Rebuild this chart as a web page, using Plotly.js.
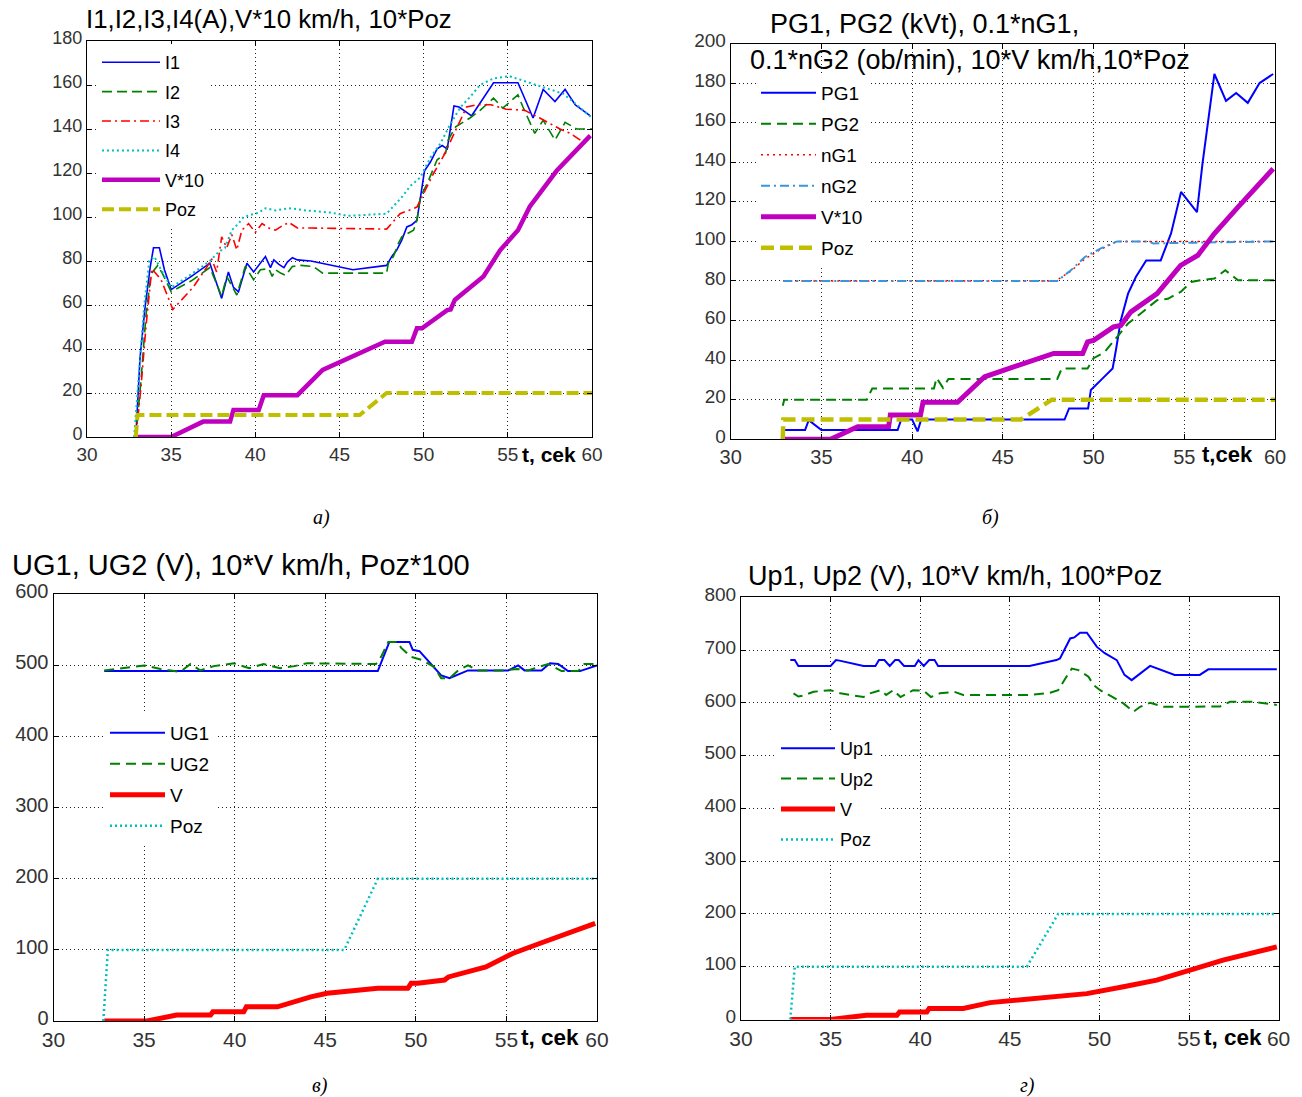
<!DOCTYPE html>
<html>
<head>
<meta charset="utf-8">
<script src="https://cdn.plot.ly/plotly-3.0.1.min.js"></script>
<style>html,body{margin:0;padding:0;background:#fff;}#chart{width:1302px;height:1097px;}</style>
</head>
<body>
<div id="chart"></div>
<script>
// ---------------- DATA ----------------
// Panel a
const a_I1_t = [32.9, 33.15, 33.45, 33.75, 33.95, 34.3, 34.6, 35.0, 36.2, 37.3, 38.0, 38.4, 38.7, 39.0, 39.5, 39.9, 40.6, 40.9, 41.1, 41.4, 41.7, 41.9, 42.2, 42.5, 43.3, 45.8, 47.8, 48.1, 48.4, 48.7, 49.0, 49.3, 49.6, 49.8, 50.05, 50.4, 50.8, 51.1, 51.4, 51.8, 52.1, 52.85, 54.15, 55.6, 56.5, 57.1, 57.8, 58.4, 59.0, 59.9];
const a_I1_v = [0, 36, 59, 77, 86, 86, 76, 67, 73, 79, 63, 75, 68, 66, 79, 75, 82, 77, 80.5, 78.5, 77, 79.5, 81.5, 80.5, 80, 76, 78, 82, 85, 89.5, 95.5, 96.5, 98.5, 109, 121, 125, 131, 132.5, 131, 150.5, 150, 146, 161, 161, 145, 158, 152.5, 158, 151, 146];
const a_I2_t = [32.9, 33.2, 33.5, 33.8, 34.2, 34.5, 35.0, 36.2, 37.3, 38.0, 38.3, 38.9, 39.4, 39.9, 40.3, 40.8, 41.0, 41.2, 41.5, 41.8, 42.2, 42.7, 43.45, 44.0, 47.8, 47.9, 48.2, 48.5, 48.7, 49.1, 49.4, 49.6, 49.8, 50.2, 50.8, 51.3, 51.45, 51.9, 52.75, 53.35, 54.15, 54.7, 55.6, 55.9, 56.6, 57.1, 57.8, 58.4, 59.1, 60];
const a_I2_v = [0, 25, 55, 74, 78, 74, 66, 71, 77, 64, 73, 64.5, 77.5, 71.5, 76, 76.5, 73, 76, 74.5, 73.5, 77.5, 78, 77.5, 74.5, 74.5, 79, 82, 88, 91, 92.5, 94, 98.5, 109, 115, 126, 129, 135, 141, 145, 148.5, 154, 149.5, 155.5, 150, 138, 144, 135, 143, 140, 140];
const a_I3_t = [32.9, 33.2, 33.5, 33.85, 34.4, 35.1, 36.3, 37.1, 37.4, 37.7, 38.0, 38.3, 38.6, 38.9, 39.2, 39.6, 40.0, 40.4, 40.8, 41.2, 41.6, 42.0, 42.5, 43.3, 47.8, 48.6, 49.6, 50.0, 50.6, 51.2, 51.8, 52.55, 53.15, 54.0, 54.9, 56.0, 56.9, 58.1, 58.7, 59.8];
const a_I3_v = [0, 22, 50, 76.5, 71.5, 58, 68, 77, 81, 75, 91, 86, 92, 85, 94, 97, 93, 97, 95, 94, 96, 97.5, 95, 95, 94.5, 101.5, 104.5, 111, 120, 128, 138, 150, 151, 151, 149, 148.5, 145, 140, 138, 132.5];
const a_I4_t = [32.8, 33.1, 33.4, 33.7, 34.0, 34.4, 35.0, 36.2, 37.3, 37.8, 38.2, 38.6, 39.0, 39.3, 39.7, 40.2, 40.6, 41.2, 42.0, 43.0, 44.5, 45.5, 47.8, 48.7, 49.2, 49.8, 50.4, 51.0, 51.6, 52.2, 52.75, 53.35, 54.15, 55.1, 56.1, 57.1, 58.3, 59.1, 60];
const a_I4_v = [0, 30, 60, 80, 82, 76, 68, 74, 80, 84, 86, 94, 97, 100, 101, 102, 104, 103, 104, 103, 102, 100.5, 101.5, 109, 114, 118, 127, 133.5, 142.5, 150, 154.5, 160, 163, 164, 161.5, 159, 156, 151, 145];
const a_V_t = [33, 35.0, 36.9, 38.5, 38.7, 40.2, 40.5, 42.5, 44.0, 45.0, 47.7, 49.3, 49.6, 49.9, 51.4, 51.6, 51.85, 53.55, 54.55, 55.6, 56.3, 57.9, 59.9];
const a_V_v = [0, 0, 7, 7, 12.3, 12.3, 19, 19, 30.5, 34, 43.3, 43.3, 49.4, 49.4, 57.7, 58, 62.3, 73, 85, 94, 104.7, 121, 137];
const a_Poz_t = [32.9, 33.0, 46.2, 47.0, 47.8, 60];
const a_Poz_v = [0, 10, 10, 15, 20, 20];

// Panel b
const b_PG1_t = [32.87, 32.9, 34.1, 34.3, 35.0, 39.2, 39.4, 40.0, 40.3, 40.5, 48.4, 48.65, 49.7, 49.85, 50.5, 51.05, 51.23, 51.5, 51.9, 52.33, 52.9, 53.7, 54.27, 54.82, 55.7, 56.0, 56.66, 57.3, 57.86, 58.5, 59.15, 59.9];
const b_PG1_v = [0, 4.7, 4.7, 9.7, 4.7, 4.7, 10, 10, 4, 10, 10, 15.6, 15.6, 24.9, 30.8, 35.8, 45, 60, 73.6, 82, 90.4, 90.4, 104, 125, 114.8, 139, 184.6, 171, 175, 170, 180, 184.6];
const b_PG2_t = [32.87, 32.95, 37.5, 37.8, 41.2, 41.35, 41.7, 42.0, 48.0, 48.25, 49.67, 50.0, 50.6, 51.3, 51.9, 52.6, 53.5, 54.1, 54.8, 55.37, 55.9, 56.66, 57.26, 57.96, 60];
const b_PG2_v = [17, 20, 20, 25.7, 25.7, 31, 26, 30.5, 30.5, 35.8, 35.8, 41, 44, 52, 58.5, 63.6, 70.3, 71, 74.5, 79.5, 80.4, 81.2, 85.4, 80.4, 80.4];
const b_nG1_t = [32.9, 47.9, 48.75, 49.5, 50.4, 51.3, 60];
const b_nG1_v = [80, 80, 85, 91, 96, 100, 100];
const b_nG2_t = [32.9, 48.0, 48.75, 49.5, 50.4, 51.3, 53.0, 53.3, 60];
const b_nG2_v = [80, 80, 85.4, 92, 96.5, 100, 100, 99, 100];
const b_V_t = [32.9, 35.5, 37.0, 38.7, 38.8, 40.46, 40.6, 42.5, 44.0, 47.8, 49.4, 49.67, 50.0, 51.1, 51.5, 52.06, 53.5, 54.8, 55.75, 56.66, 57.96, 59.9];
const b_V_v = [0, 0, 6.3, 6.3, 12.3, 12.3, 18.7, 18.7, 31.6, 43.4, 43.4, 49.2, 50, 56.8, 57.5, 64.4, 73.6, 87.9, 93, 104, 117.3, 136.7];
const b_Poz_t = [32.87, 32.9, 46.0, 46.9, 47.7, 60];
const b_Poz_v = [0, 10, 10, 15.6, 20, 20];

// Panel c
const c_UG1_t = [32.8, 47.9, 48.54, 49.65, 49.83, 50.2, 51.4, 51.86, 52.88, 55.1, 55.65, 56.0, 56.94, 57.4, 57.86, 58.4, 59.06, 60];
const c_UG1_v = [492, 492, 533, 533, 522, 520, 486, 482, 493, 493, 500, 493, 493, 503, 502, 492, 492, 500];
const c_UG2_t = [32.8, 35.0, 35.9, 37.0, 37.56, 38.1, 38.85, 39.96, 40.8, 41.6, 42.5, 43.3, 44.0, 47.8, 48.08, 48.48, 49.0, 49.18, 49.74, 50.3, 51.0, 51.4, 51.86, 52.33, 52.88, 53.43, 54.9, 55.6, 56.2, 57.3, 58.04, 58.96, 59.3, 60];
const c_UG2_v = [493, 500, 495, 491, 502, 493, 499, 503, 496, 502, 496, 499, 503, 502, 512, 533, 533, 525, 512, 508, 498, 482, 482, 493, 500, 493, 493, 495, 493, 502, 492, 492, 502, 502];
const c_V_t = [32.8, 35.16, 36.8, 38.67, 38.8, 40.5, 40.65, 42.36, 44.2, 45.1, 47.9, 49.56, 49.74, 50.1, 51.58, 51.8, 53.87, 55.34, 56.83, 59.9];
const c_V_v = [0, 0, 8.4, 8.4, 13, 13, 20, 20, 34, 39, 46, 46, 53, 53, 57.6, 62, 76, 95, 109, 137.4];
const c_Poz_t = [32.75, 33.0, 46.05, 47.9, 60];
const c_Poz_v = [0, 100, 100, 200, 200];

// Panel d
const d_Up1_t = [32.75, 33.0, 33.2, 35.0, 35.3, 35.5, 36.84, 37.5, 37.7, 38.0, 38.3, 38.6, 38.8, 39.1, 39.7, 39.9, 40.2, 40.5, 40.8, 41.0, 46.1, 47.6, 47.8, 48.37, 48.6, 48.92, 49.3, 49.86, 50.3, 50.97, 51.4, 51.8, 52.83, 54.2, 55.6, 56.08, 59.9];
const d_Up1_v = [681, 681, 670, 670, 681, 680, 670, 670, 681, 681, 670, 681, 681, 670, 670, 681, 670, 681, 681, 670, 670, 681, 684, 722, 724, 733, 733, 706, 694, 681, 653, 643, 670, 653, 653, 663.5, 663.5];
const d_Up2_t = [32.93, 33.2, 33.5, 34.05, 35.0, 35.54, 36.1, 36.84, 37.2, 37.8, 38.1, 38.5, 38.9, 39.6, 40.2, 40.6, 41.1, 41.9, 42.4, 46.1, 47.25, 47.7, 48.1, 48.46, 48.83, 49.39, 49.67, 50.04, 50.7, 51.34, 51.9, 52.27, 52.83, 53.57, 56.73, 57.29, 58.59, 59.9];
const d_Up2_v = [618, 612, 614, 621, 624, 618, 615, 611, 618, 624, 615, 624, 611, 624, 623, 611, 618, 621, 615, 615, 619, 624, 646, 665, 662, 649.5, 634, 624, 611.6, 599, 583, 592.6, 600, 592.6, 593, 602, 602, 596];
const d_V_t = [32.75, 35.0, 37.0, 38.7, 38.85, 40.37, 40.5, 42.4, 43.9, 49.3, 51.34, 53.2, 55.06, 56.9, 59.9];
const d_V_v = [0, 0, 8, 8, 14.4, 14.4, 21, 21, 32, 49, 62, 74.5, 93.5, 112.4, 137.6];
const d_Poz_t = [32.75, 33.0, 45.95, 47.7, 59.9];
const d_Poz_v = [0, 100, 100, 200, 200];

// Text
const titles = ["I1,I2,I3,I4(A),V*10 km/h, 10*Poz", "PG1, PG2 (kVt), 0.1*nG1,", "0.1*nG2 (ob/min), 10*V km/h,10*Poz", "UG1, UG2 (V), 10*V km/h, Poz*100", "Up1, Up2 (V), 10*V km/h, 100*Poz"];
const captions = ["а)", "б)", "в)", "г)"];
const xLabel = ["t, cek", "t,cek", "t, cek", "t, cek"];
const xTicks = [30, 35, 40, 45, 50, 55, 60];

// ---------------- LAYOUT HELPERS ----------------
const W = 1302, H = 1097;
const px = v => v / W;
const py = v => 1 - v / H;
const FONT = "Liberation Sans, Arial, sans-serif";

const BLUE = "#0000ff", GREEN = "#008000", RED = "#ff0000", CYAN = "#00bfbf", MAG = "#bf00bf", YEL = "#bfbf00";

function tr(x, y, name, color, width, dash, n, leg) {
  return {
    x: x, y: y, name: name, type: "scatter", mode: "lines",
    xaxis: "x" + (n === 1 ? "" : n), yaxis: "y" + (n === 1 ? "" : n),
    line: {color: color, width: width, dash: dash},
    legend: leg, legendgroup: leg + name, hoverinfo: "skip"
  };
}

const data = [
  tr(a_I1_t, a_I1_v, "I1", BLUE, 1.6, "solid", 1, "legend"),
  tr(a_I2_t, a_I2_v, "I2", GREEN, 1.6, "10px,5px", 1, "legend"),
  tr(a_I3_t, a_I3_v, "I3", RED, 1.6, "9px,4px,2px,4px", 1, "legend"),
  tr(a_I4_t, a_I4_v, "I4", CYAN, 2, "2px,3px", 1, "legend"),
  tr(a_V_t, a_V_v, "V*10", MAG, 4.5, "solid", 1, "legend"),
  tr(a_Poz_t, a_Poz_v, "Poz", YEL, 4, "12px,5px", 1, "legend"),

  tr(b_PG1_t, b_PG1_v, "PG1", BLUE, 2, "solid", 2, "legend2"),
  tr(b_PG2_t, b_PG2_v, "PG2", GREEN, 2, "10px,6px", 2, "legend2"),
  tr(b_nG1_t, b_nG1_v, "nG1", RED, 1.5, "2px,4px", 2, "legend2"),
  tr(b_nG2_t, b_nG2_v, "nG2", "#3a96dc", 2, "9px,4px,2px,4px", 2, "legend2"),
  tr(b_V_t, b_V_v, "V*10", MAG, 5, "solid", 2, "legend2"),
  tr(b_Poz_t, b_Poz_v, "Poz", YEL, 4.5, "13px,6px", 2, "legend2"),

  tr(c_UG1_t, c_UG1_v, "UG1", BLUE, 2, "solid", 3, "legend3"),
  tr(c_UG2_t, c_UG2_v, "UG2", GREEN, 2, "10px,6px", 3, "legend3"),
  tr(c_V_t, c_V_v, "V", RED, 5, "solid", 3, "legend3"),
  tr(c_Poz_t, c_Poz_v, "Poz", CYAN, 2.5, "2px,3px", 3, "legend3"),

  tr(d_Up1_t, d_Up1_v, "Up1", BLUE, 2, "solid", 4, "legend4"),
  tr(d_Up2_t, d_Up2_v, "Up2", GREEN, 2, "10px,6px", 4, "legend4"),
  tr(d_V_t, d_V_v, "V", RED, 5, "solid", 4, "legend4"),
  tr(d_Poz_t, d_Poz_v, "Poz", CYAN, 2.5, "2px,3px", 4, "legend4")
];

// panel pixel boxes: [left, right, top, bottom]
const boxes = [[87, 592, 41, 437], [730.7, 1275, 43.5, 439.3], [53.5, 597, 594.3, 1021], [741, 1278.6, 597.3, 1019.5]];
const yRanges = [[0, 180], [0, 200], [0, 600], [0, 800]];
const yDtick = [20, 20, 100, 100];
const yFont = [18, 19, 20, 19];
const xFont = [19, 20, 21, 21];

const layout = {
  width: W, height: H, margin: {l: 0, r: 0, t: 0, b: 0},
  paper_bgcolor: "#fff", plot_bgcolor: "#fff",
  font: {family: FONT, color: "#000"},
  showlegend: true, annotations: []
};

boxes.forEach((b, i) => {
  const s = i === 0 ? "" : String(i + 1);
  const common = {
    showline: true, linecolor: "#000", linewidth: 1, mirror: "ticks",
    ticks: "inside", ticklen: 5, tickcolor: "#000", tickwidth: 1,
    showgrid: true, gridcolor: "#222", gridwidth: 1, griddash: "1px,3px",
    zeroline: false, fixedrange: true
  };
  layout["xaxis" + s] = Object.assign({}, common, {
    domain: [px(b[0]), px(b[1])], anchor: "y" + s, range: [30, 60],
    tickvals: xTicks, ticktext: xTicks.map(String),
    tickfont: {family: FONT, size: xFont[i], color: "#333"}
  });
  layout["yaxis" + s] = Object.assign({}, common, {
    domain: [py(b[3]), py(b[2])], anchor: "x" + s, range: yRanges[i],
    dtick: yDtick[i], tick0: 0, ticklabelshift: -3,
    tickfont: {family: FONT, size: yFont[i], color: "#333"}
  });
});

function legendCfg(left, top, size, itemw, gap) {
  return {
    x: px(left), y: py(top), xanchor: "left", yanchor: "top",
    bgcolor: "#fff", borderwidth: 0, font: {family: FONT, size: size, color: "#000"},
    itemwidth: itemw, traceorder: "grouped", tracegroupgap: gap,
    itemclick: false, itemdoubleclick: false
  };
}
layout.legend = legendCfg(97, 44, 18, 58, 3);
layout.legend2 = legendCfg(756, 74, 19, 55, 3.3);
layout.legend3 = legendCfg(105, 714, 19, 55, 3.3);
layout.legend4 = legendCfg(776, 730, 18, 54, 4);

function ann(text, x, y, size, xanchor, extra) {
  return Object.assign({
    text: text, x: px(x), y: py(y), xref: "paper", yref: "paper",
    xanchor: xanchor, yanchor: "middle", showarrow: false,
    font: {family: FONT, size: size, color: "#000"}
  }, extra || {});
}
layout.annotations.push(ann(titles[0], 84, 19, 25.8, "left"));
layout.annotations.push(ann(titles[1], 768, 24, 27, "left"));
layout.annotations.push(ann(titles[2], 748, 60, 27, "left"));
layout.annotations.push(ann(titles[3], 10, 565, 29, "left"));
layout.annotations.push(ann(titles[4], 746, 576, 27, "left"));

layout.annotations.push(ann("<b>" + xLabel[0] + "</b>", 549, 455, 21, "center"));
layout.annotations.push(ann("<b>" + xLabel[1] + "</b>", 1227, 455, 22, "center"));
layout.annotations.push(ann("<b>" + xLabel[2] + "</b>", 550, 1037, 22.5, "center"));
layout.annotations.push(ann("<b>" + xLabel[3] + "</b>", 1233, 1037, 22.5, "center"));

const capFont = "Liberation Serif, Times New Roman, serif";
[[321, 517], [990, 517], [320, 1085], [1027, 1085]].forEach((p, i) => {
  layout.annotations.push(ann("<i>" + captions[i] + "</i>", p[0], p[1], 20, "center", {font: {family: capFont, size: 20, color: "#000"}}));
});

Plotly.newPlot("chart", data, layout, {displayModeBar: false, staticPlot: false, responsive: false});
</script>
</body>
</html>
